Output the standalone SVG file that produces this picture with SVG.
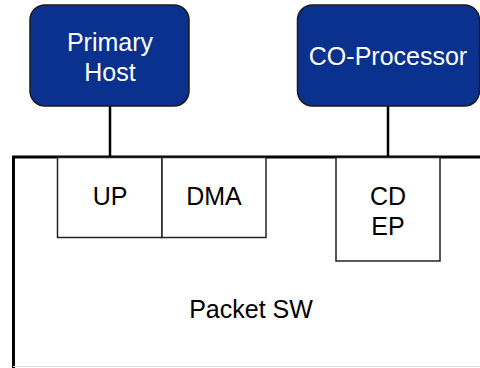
<svg xmlns="http://www.w3.org/2000/svg" width="480" height="368" viewBox="0 0 480 368">
<style>
.host{fill:#0b318f;stroke:#1a1a1a;stroke-width:1.5}
.wt{fill:#ffffff;font-family:"Liberation Sans",Arial,sans-serif;font-size:25px;text-anchor:middle}
.bt{fill:#000000;font-family:"Liberation Sans",Arial,sans-serif;font-size:25px;text-anchor:middle}
.blk{fill:#ffffff;stroke:#222;stroke-width:1.5}
.ln{stroke:#000;stroke-width:2.5;fill:none}
</style>
<rect width="480" height="368" fill="#fff"/>
<g id="packet-sw">
<path d="M13.5 368 V157 H482" fill="#fff" stroke="#000" stroke-width="3"/>
<line x1="13" y1="366.5" x2="480" y2="366.5" stroke="#ddd" stroke-width="1"/>
<text class="bt" x="251" y="318">Packet SW</text>
</g>
<g id="connectors">
<line class="ln" x1="110" y1="106" x2="110" y2="157"/>
<line class="ln" x1="388" y1="106" x2="388" y2="157"/>
</g>
<g id="primary-host">
<rect class="host" x="30" y="5" width="159" height="101" rx="15"/>
<text class="wt" x="110" y="51">Primary</text>
<text class="wt" x="110" y="81">Host</text>
</g>
<g id="co-processor">
<rect class="host" x="297.5" y="5" width="182" height="101" rx="15"/>
<text class="wt" x="388" y="65">CO-Processor</text>
</g>
<g id="up">
<rect class="blk" x="57.5" y="157.5" width="104.5" height="80"/>
<text class="bt" x="110" y="205">UP</text>
</g>
<g id="dma">
<rect class="blk" x="162" y="157.5" width="104" height="80"/>
<text class="bt" x="214" y="205">DMA</text>
</g>
<g id="cd-ep">
<rect class="blk" x="336" y="157.5" width="104" height="103.5"/>
<text class="bt" x="388" y="205">CD</text>
<text class="bt" x="388" y="235">EP</text>
</g>
</svg>
